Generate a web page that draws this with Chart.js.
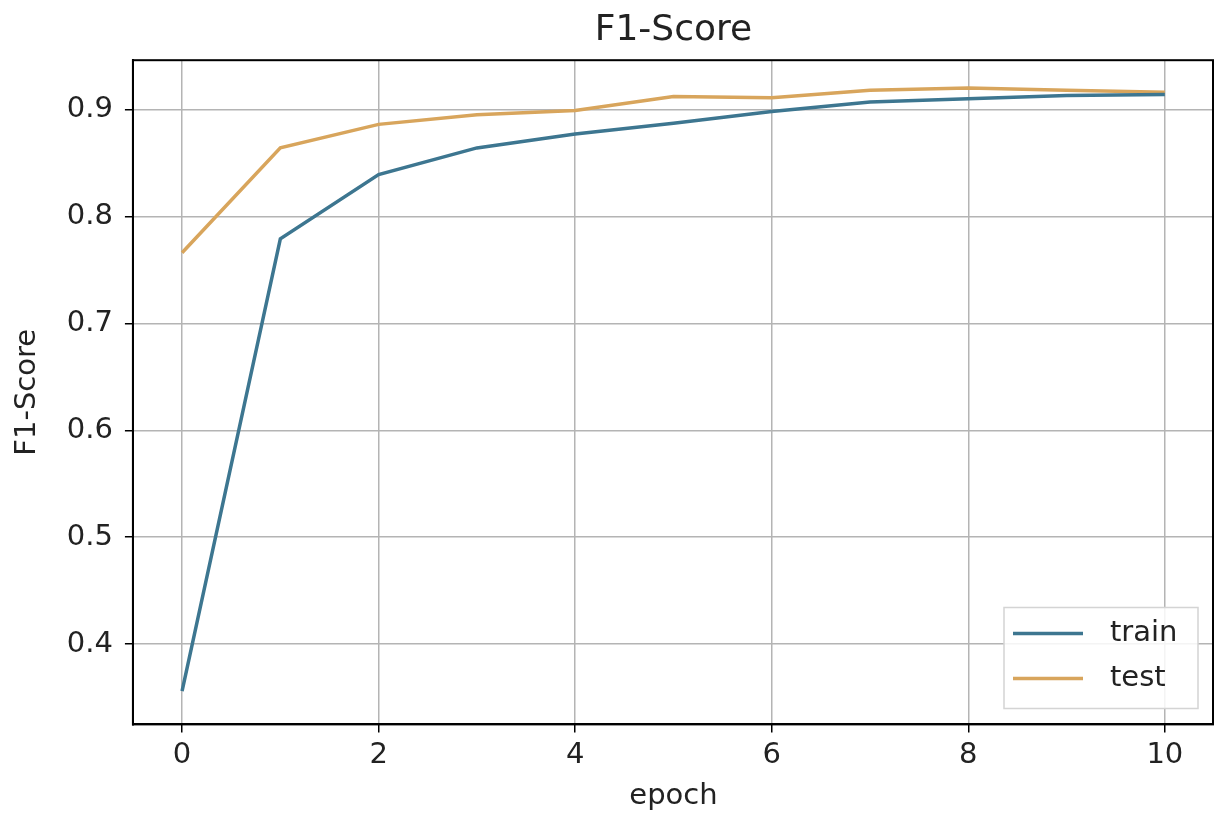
<!DOCTYPE html>
<html>
<head>
<meta charset="utf-8">
<script src="https://cdn.jsdelivr.net/npm/chart.js@4"></script>
<style>
  html, body { margin: 0; padding: 0; background: #fff; }
  #wrap { width: 1214px; height: 814px; }
</style>
</head>
<body>
<div id="wrap"><canvas id="myChart"></canvas></div>
<script>
// values
var epochs = [0, 1, 2, 3, 4, 5, 6, 7, 8, 9, 10];
var trainF1 = [0.356, 0.779, 0.839, 0.864, 0.877, 0.887, 0.898, 0.907, 0.910, 0.913, 0.914];
var testF1 = [0.766, 0.864, 0.886, 0.895, 0.899, 0.912, 0.911, 0.918, 0.920, 0.918, 0.916];
var xTicks = [0, 2, 4, 6, 8, 10];
var yTicks = [0.4, 0.5, 0.6, 0.7, 0.8, 0.9];

var trainColor = '#3d7690';
var testColor = '#d8a55c';
var fontFam = 'DejaVu Sans';

function pairs(ys) {
    return epochs.map(function(e, i) { return { x: e, y: ys[i] }; });
}

// black frame round the plot area + legend box in the lower right
var boxLegend = {
    id: 'boxLegend',
    afterDatasetsDraw: function(chart) {
        var c = chart.ctx, a = chart.chartArea;
        c.save();
        c.strokeStyle = '#000';
        c.lineWidth = 2;
        c.strokeRect(a.left, a.top, a.right - a.left - 1, a.bottom - a.top);

        var w = 194, h = 101;
        var x0 = a.right - w - 16, y0 = a.bottom - h - 16;
        c.fillStyle = 'rgba(255,255,255,0.85)';
        c.strokeStyle = '#d4d4d4';
        c.lineWidth = 1.5;
        c.beginPath();
        c.rect(x0, y0, w, h);
        c.fill();
        c.stroke();
        c.font = '29px "' + fontFam + '"';
        c.textBaseline = 'middle';
        chart.data.datasets.forEach(function(ds, i) {
            var yy = y0 + 26 + i * 45;
            c.strokeStyle = ds.borderColor;
            c.lineWidth = 3.5;
            c.beginPath();
            c.moveTo(x0 + 9, yy);
            c.lineTo(x0 + 79, yy);
            c.stroke();
            c.fillStyle = '#222';
            c.fillText(ds.label, x0 + 106, yy);
        });
        c.restore();
    }
};

var ctx = document.getElementById('myChart').getContext('2d');
var myChart = new Chart(ctx, {
    type: 'line',
    data: {
        datasets: [{
            label: 'train',
            data: pairs(trainF1),
            borderColor: trainColor,
            borderWidth: 3.5,
            pointRadius: 0,
            tension: 0
        }, {
            label: 'test',
            data: pairs(testF1),
            borderColor: testColor,
            borderWidth: 3.5,
            pointRadius: 0,
            tension: 0
        }],
    },
    options: {
        responsive: true,
        maintainAspectRatio: false,
        animation: false,
        layout: { padding: { top: 0, right: 0, left: 10, bottom: 0 } },
        plugins: {
            legend: { display: false },
            tooltip: { enabled: false },
            title: {
                display: true,
                fullSize: false,
                text: 'F1-Score',
                color: '#222',
                font: { family: fontFam, size: 36, weight: 'normal' },
                padding: { top: 9, bottom: 8 }
            }
        },
        scales: {
            x: {
                type: 'linear',
                min: -0.5,
                max: 10.5,
                afterBuildTicks: function(scale) {
                    scale.ticks = xTicks.map(function(v) { return { value: v }; });
                },
                ticks: {
                    color: '#222',
                    padding: 6,
                    maxRotation: 0,
                    font: { family: fontFam, size: 29 }
                },
                grid: { color: '#b4b4b4', lineWidth: 1.5, tickColor: '#000', tickLength: 8 },
                border: { color: '#000', width: 2 },
                title: {
                    display: true,
                    text: 'epoch',
                    color: '#222',
                    padding: { top: 0, bottom: 0 },
                    font: { family: fontFam, size: 29 }
                }
            },
            y: {
                min: 0.325,
                max: 0.946,
                afterBuildTicks: function(scale) {
                    scale.ticks = yTicks.map(function(v) { return { value: v }; });
                },
                ticks: {
                    color: '#222',
                    padding: 12,
                    font: { family: fontFam, size: 29 },
                    callback: function(value) {
                        return value.toFixed(1);
                    }
                },
                grid: { color: '#b4b4b4', lineWidth: 1.5, tickColor: '#000', tickLength: 8 },
                border: { color: '#000', width: 2 },
                title: {
                    display: true,
                    text: 'F1-Score',
                    color: '#222',
                    padding: { top: 0, bottom: 10 },
                    font: { family: fontFam, size: 29 }
                }
            },
        },
    },
    plugins: [boxLegend]
});
</script>
</body>
</html>
